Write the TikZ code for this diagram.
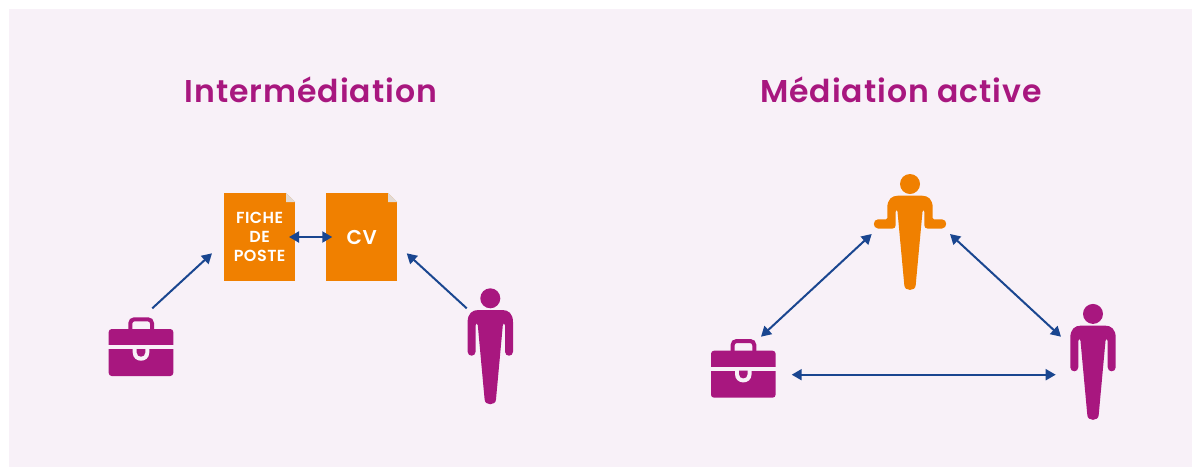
\documentclass[tikz,border=0pt]{standalone}
\usepackage{fontspec}
\setmainfont{Poppins}[UprightFont=* SemiBold,LetterSpace=3]
\usetikzlibrary{arrows.meta}
\definecolor{panel}{HTML}{F8F1F8}
\definecolor{plum}{HTML}{A8177F}
\definecolor{amber}{HTML}{F08000}
\definecolor{navy}{HTML}{1A4690}
\definecolor{foldgrey}{HTML}{E2DAD4}
\tikzset{
  x=1pt,y=-1pt,
  titletext/.style={text=plum,inner sep=0,anchor=base,font=\fontsize{31.5}{38}\selectfont},
  docbox/.style={fill=amber,text=white,minimum width=71.3pt,minimum height=87.4pt,inner sep=0,align=center},
  link/.style={draw=navy,line width=2pt},
  both/.style={link,{Triangle[length=10pt,width=11pt]}-{Triangle[length=10pt,width=11pt]}},
  single/.style={link,-{Triangle[length=10pt,width=11pt]}},
  pics/foldmark/.style={code={
    \fill[panel] (-9.3,0) -- (0.5,0) -- (0.5,9) -- (0,9) -- cycle;
    \fill[foldgrey] (-9.3,0) -- (-9.3,9) -- (0,9) -- cycle;
  }},
  pics/standing/.style={code={
    \fill[#1] (0,0) circle[radius=10];
    \fill[#1] (-12.5,27) -- (-5.7,101)
      .. controls (-5.7,107.6) and (5.7,107.6) .. (5.7,101)
      -- (12.5,27) -- (13.6,25) -- (14.7,27) -- (14.7,53.4)
      .. controls (14.7,58.7) and (22.7,58.7) .. (22.7,53.4)
      -- (22.7,24) .. controls (22.7,15) and (18,11.7) .. (12,11.7)
      -- (-12,11.7) .. controls (-18,11.7) and (-22.7,15) .. (-22.7,24)
      -- (-22.7,53.4) .. controls (-22.7,58.7) and (-14.7,58.7) .. (-14.7,53.4)
      -- (-14.7,27) -- (-13.6,25) -- cycle;
  }},
  pics/shrugging/.style={code={
    \fill[#1] (0,0) circle[radius=10];
    \fill[#1] (-12.5,27.7) -- (-5.7,101)
      .. controls (-5.7,107.6) and (5.7,107.6) .. (5.7,101)
      -- (12.5,27.7) -- (13.4,26) -- (14.3,27.7) -- (14.3,41)
      .. controls (14.3,43.5) and (15.5,44.5) .. (17.5,44.5)
      -- (32,44.5) .. controls (37.5,44.5) and (37.5,35.3) .. (32,35.3)
      -- (24,35.3) .. controls (23,35.3) and (22.7,35) .. (22.7,34)
      -- (22.7,24) .. controls (22.7,15) and (18,11.7) .. (12,11.7)
      -- (-12,11.7) .. controls (-18,11.7) and (-22.7,15) .. (-22.7,24)
      -- (-22.7,34) .. controls (-22.7,35) and (-23,35.3) .. (-24,35.3)
      -- (-32,35.3) .. controls (-37.5,35.3) and (-37.5,44.5) .. (-32,44.5)
      -- (-17.5,44.5) .. controls (-15.5,44.5) and (-14.3,43.5) .. (-14.3,41)
      -- (-14.3,27.7) -- (-13.4,26) -- cycle;
  }},
  pics/case/.style={code={
    \draw[plum,line width=4pt,rounded corners=4pt] (21.6,2) -- (21.6,-9.7) -- (43.3,-9.7) -- (43.3,2);
    \fill[plum,rounded corners=3pt] (0,0) rectangle (64.6,47);
    \fill[panel] (-0.5,16) rectangle (65.1,20);
    \fill[panel] (24,20) -- (24,23.4) .. controls (24,34.5) and (40.6,34.5) .. (40.6,23.4) -- (40.6,20) -- cycle;
    \fill[plum] (28,20) -- (28,23.4) .. controls (28,29.1) and (36.6,29.1) .. (36.6,23.4) -- (36.6,20) -- cycle;
  }},
}
\begin{document}
\begin{tikzpicture}
\useasboundingbox (0,0) rectangle (1192,467);
\fill[white] (0,0) rectangle (1192,467);
\fill[panel] (9,9) rectangle (1192,467);

\node[titletext] (titleA) at (311,102.3) {Intermédiation};
\node[titletext] (titleB) at (901,102.3) {Médiation active};

\node[docbox,font=\fontsize{16}{19}\selectfont] (fiche) at (259.65,237) {FICHE\\DE\\POSTE};
\node[docbox,font=\fontsize{20}{24}\selectfont] (cv) at (361.65,237) {CV};
\pic at (fiche.north east) {foldmark};
\pic at (cv.north east) {foldmark};

\pic at (108.7,329) {case};
\pic at (490.3,298.3) {standing=plum};
\pic at (711,350.7) {case};
\pic at (1093,313.9) {standing=plum};
\pic at (910,184) {shrugging=amber};

\coordinate (caseAout) at (152.3,308.3);
\coordinate (docAin) at (212,253.3);
\coordinate (manAout) at (466.7,308.3);
\coordinate (docBin) at (406.7,253.3);
\coordinate (midL) at (871.7,234);
\coordinate (caseBtop) at (761,336.7);
\coordinate (midR) at (950,234);
\coordinate (manBtop) at (1061,336.7);
\coordinate (caseBright) at (791.7,374.7);
\coordinate (manBleft) at (1055.7,374.7);

\draw[both,shorten <=-6.5pt,shorten >=-6.5pt] (fiche.east) -- (cv.west);
\draw[single] (caseAout) -- (docAin);
\draw[single] (manAout) -- (docBin);
\draw[both] (midL) -- (caseBtop);
\draw[both] (midR) -- (manBtop);
\draw[both] (caseBright) -- (manBleft);
\end{tikzpicture}
\end{document}
